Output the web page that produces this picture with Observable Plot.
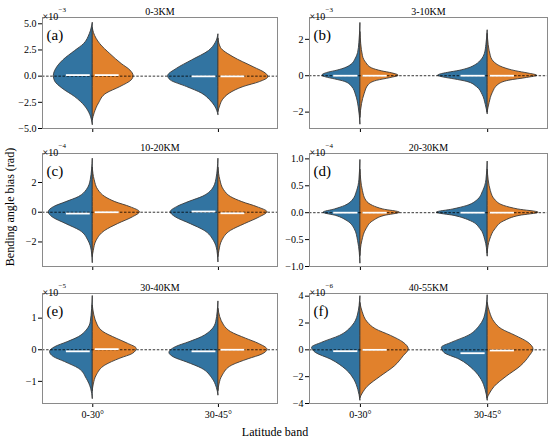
<!DOCTYPE html>
<html>
<head>
<meta charset="utf-8">
<script src="https://cdn.jsdelivr.net/npm/d3@7"></script>
<script src="https://cdn.jsdelivr.net/npm/@observablehq/plot@0.6"></script>
<style>
  html, body { margin: 0; padding: 0; background: #fff; }
  #chart { position: relative; width: 550px; height: 439px; background: #fff; font-family: "Liberation Serif", "Times New Roman", serif; overflow: hidden; }
  #chart > div.panel { position: absolute; }
  .lbl { position: absolute; font-size: 12px; color: #000; white-space: nowrap; }
</style>
</head>
<body>
<div id="chart"></div>
<script>
// ---------------- data ----------------
const bands = ["0-30°", "30-45°"];
const panelTitles = ["0-3KM", "3-10KM", "10-20KM", "20-30KM", "30-40KM", "40-55KM"];
const panelLetters = ["(a)", "(b)", "(c)", "(d)", "(e)", "(f)"];
const exponents = ["−3", "−3", "−4", "−4", "−5", "−6"];
const yDomains = [[-5.0, 5.6], [-2.9, 3.2], [-3.65, 3.95], [-1.0, 1.1], [-1.7, 1.78], [-4.0, 4.2]];
const yTicks = [[-5, -2.5, 0, 2.5, 5], [-2, 0, 2], [-2, 0, 2], [-1, -0.5, 0, 0.5, 1], [-1, 0, 1], [-4, -2, 0, 2, 4]];
const yTickLabels = [
  ["−5.0", "−2.5", "0.0", "2.5", "5.0"],
  ["−2", "0", "2"],
  ["−2", "0", "2"],
  ["−1.0", "−0.5", "0.0", "0.5", "1.0"],
  ["−1", "0", "1"],
  ["−4", "−2", "0", "2", "4"]
];
// mean (white line) per half: [0-30 left, 0-30 right, 30-45 left, 30-45 right]
const meansA = [0.1, 0.1, -0.02, -0.02];
const meansB = [0, 0, 0, 0];
const meansC = [-0.09, 0, 0.05, -0.07];
const meansD = [0, 0, 0, 0];
const meansE = [-0.05, 0.02, -0.05, 0];
const meansF = [-0.1, 0, -0.25, -0.05];

// violin half profiles: [value, half-width]; order [0-30 left, 0-30 right, 30-45 left, 30-45 right]
const profilesA = [
  [[5.1,0],[4.0,0.024],[3.05,0.07],[2.4,0.14],[1.5,0.235],[0.7,0.29],[0,0.31],[-0.5,0.30],[-1.2,0.24],[-2.0,0.14],[-2.9,0.06],[-3.7,0.02],[-4.65,0]],
  [[4.6,0],[4.1,0.01],[3.05,0.06],[2.1,0.14],[1.16,0.23],[0.53,0.30],[0,0.325],[-0.4,0.31],[-1.04,0.22],[-1.67,0.11],[-2.6,0.05],[-3.55,0.015],[-4.2,0]],
  [[4.0,0],[3.2,0.02],[2.4,0.075],[1.5,0.21],[0.7,0.33],[0,0.4],[-0.4,0.38],[-1.04,0.25],[-1.67,0.13],[-2.3,0.066],[-2.9,0.026],[-3.7,0]],
  [[3.6,0],[2.7,0.02],[1.8,0.12],[0.85,0.28],[0.22,0.38],[-0.1,0.397],[-0.57,0.33],[-1.04,0.2],[-1.67,0.09],[-2.3,0.035],[-2.9,0.013],[-3.4,0]]
];
const profilesB = [
  [[2.9,0],[1.81,0.008],[1.25,0.018],[0.88,0.04],[0.6,0.07],[0.41,0.12],[0.28,0.18],[0.17,0.25],[0.07,0.29],[0,0.30],[-0.09,0.27],[-0.2,0.2],[-0.34,0.12],[-0.62,0.065],[-1.08,0.034],[-1.74,0.013],[-2.67,0]],
  [[2.4,0],[1.07,0.02],[0.69,0.047],[0.41,0.09],[0.24,0.17],[0.13,0.25],[0,0.30],[-0.13,0.235],[-0.28,0.13],[-0.52,0.065],[-0.99,0.034],[-1.55,0.013],[-2.3,0]],
  [[2.5,0],[1.7,0.01],[1.2,0.022],[0.85,0.05],[0.6,0.09],[0.4,0.15],[0.27,0.22],[0.16,0.31],[0.07,0.37],[0,0.39],[-0.09,0.35],[-0.2,0.26],[-0.34,0.16],[-0.62,0.085],[-1.05,0.04],[-1.6,0.015],[-2.1,0]],
  [[2.3,0],[1.07,0.025],[0.69,0.06],[0.45,0.12],[0.25,0.22],[0.12,0.32],[0,0.39],[-0.12,0.31],[-0.27,0.17],[-0.5,0.085],[-0.95,0.04],[-1.5,0.015],[-2.0,0]]
];
const profilesC = [
  [[3.6,0],[2.16,0.016],[1.48,0.048],[1.02,0.11],[0.68,0.21],[0.34,0.31],[0,0.35],[-0.34,0.32],[-0.8,0.21],[-1.25,0.1],[-1.93,0.034],[-2.6,0.008],[-3.4,0]],
  [[3.0,0],[2.16,0.015],[1.48,0.045],[1.02,0.1],[0.68,0.18],[0.34,0.3],[0,0.375],[-0.34,0.32],[-0.8,0.2],[-1.25,0.1],[-1.93,0.03],[-2.6,0.008],[-3.0,0]],
  [[3.6,0],[2.2,0.016],[1.5,0.05],[1.05,0.12],[0.7,0.23],[0.34,0.33],[0,0.38],[-0.34,0.34],[-0.8,0.22],[-1.25,0.11],[-1.93,0.036],[-2.6,0.008],[-3.35,0]],
  [[3.0,0],[2.16,0.015],[1.48,0.045],[1.02,0.1],[0.68,0.19],[0.34,0.31],[0,0.39],[-0.34,0.33],[-0.8,0.21],[-1.25,0.1],[-1.93,0.03],[-2.6,0.008],[-3.0,0]]
];
const profilesD = [
  [[0.98,0],[0.6,0.008],[0.4,0.026],[0.22,0.063],[0.125,0.12],[0.06,0.2],[0,0.29],[-0.06,0.19],[-0.16,0.1],[-0.31,0.044],[-0.53,0.018],[-0.75,0.005],[-0.94,0]],
  [[0.8,0],[0.4,0.02],[0.22,0.047],[0.125,0.1],[0.06,0.18],[0,0.31],[-0.06,0.19],[-0.16,0.1],[-0.31,0.047],[-0.53,0.015],[-0.8,0]],
  [[0.95,0],[0.6,0.01],[0.4,0.035],[0.22,0.085],[0.125,0.16],[0.06,0.27],[0,0.4],[-0.06,0.26],[-0.16,0.13],[-0.31,0.055],[-0.5,0.02],[-0.81,0]],
  [[0.8,0],[0.4,0.025],[0.22,0.065],[0.125,0.13],[0.06,0.24],[0,0.4],[-0.06,0.25],[-0.16,0.13],[-0.31,0.06],[-0.5,0.02],[-0.75,0]]
];
const profilesE = [
  [[1.7,0],[0.87,0.016],[0.61,0.048],[0.4,0.11],[0.24,0.2],[0.08,0.3],[-0.07,0.34],[-0.23,0.31],[-0.39,0.22],[-0.6,0.11],[-0.92,0.048],[-1.23,0.013],[-1.55,0]],
  [[1.4,0],[0.77,0.04],[0.56,0.085],[0.35,0.19],[0.19,0.28],[0.03,0.35],[-0.13,0.32],[-0.28,0.22],[-0.5,0.1],[-0.81,0.032],[-1.1,0.008],[-1.3,0]],
  [[1.53,0],[0.87,0.018],[0.61,0.055],[0.4,0.13],[0.24,0.23],[0.08,0.34],[-0.1,0.39],[-0.25,0.35],[-0.4,0.25],[-0.6,0.13],[-0.9,0.05],[-1.2,0.013],[-1.44,0]],
  [[1.3,0],[0.77,0.045],[0.56,0.1],[0.35,0.22],[0.19,0.32],[0.0,0.39],[-0.15,0.35],[-0.3,0.24],[-0.5,0.11],[-0.81,0.035],[-1.1,0.008],[-1.3,0]]
];
const profilesF = [
  [[4.0,0],[2.56,0.02],[1.8,0.06],[1.04,0.16],[0.53,0.3],[0.15,0.38],[-0.23,0.35],[-0.73,0.23],[-1.5,0.11],[-2.25,0.047],[-3.0,0.016],[-3.77,0]],
  [[3.5,0],[2.8,0.018],[2.05,0.057],[1.54,0.12],[1.04,0.24],[0.53,0.34],[0.03,0.38],[-0.48,0.34],[-1.24,0.27],[-2.0,0.16],[-2.76,0.057],[-3.27,0.018],[-3.6,0]],
  [[4.07,0],[2.56,0.02],[1.8,0.06],[1.04,0.15],[0.53,0.28],[0.15,0.36],[-0.23,0.34],[-0.73,0.22],[-1.5,0.11],[-2.25,0.047],[-3.0,0.016],[-3.77,0]],
  [[3.5,0],[2.8,0.018],[2.05,0.055],[1.54,0.11],[1.04,0.22],[0.53,0.32],[0.03,0.36],[-0.48,0.33],[-1.24,0.26],[-2.0,0.15],[-2.76,0.055],[-3.27,0.018],[-3.6,0]]
];

const allProfiles = [profilesA, profilesB, profilesC, profilesD, profilesE, profilesF];
const allMeans = [meansA, meansB, meansC, meansD, meansE, meansF];

// ---------------- style ----------------
const FONT = '"Liberation Serif", "Times New Roman", serif';
const BLUE = "#3274a1";
const ORANGE = "#e1812c";

// column: [left, width, marginLeft, marginRight]; row: [top, height, marginTop, marginBottom]
const cols = [[0, 280, 42, 3], [280, 270, 29, 3]];
const rows = [[0, 136, 17, 8], [136, 136, 17, 6], [272, 167, 21, 36]];

const chart = document.getElementById("chart");

allProfiles.forEach((profs, i) => {
  const col = cols[i % 2], row = rows[Math.floor(i / 2)];
  const isBottom = Math.floor(i / 2) === 2;
  const data = [];
  profs.forEach((prof, k) => {
    const band = Math.floor(k / 2), side = k % 2 ? 1 : -1;
    prof.slice().sort((a, b) => a[0] - b[0]).forEach(([v, w]) => {
      data.push({key: k, side, v, x1: band, x2: band + side * w});
    });
  });
  const meanData = allMeans[i].map((m, k) => {
    const band = Math.floor(k / 2), side = k % 2 ? 1 : -1;
    return {m, a: band + side * 0.02, b: band + side * 0.21};
  });
  const labelMap = new Map(yTicks[i].map((t, j) => [t, yTickLabels[i][j]]));
  const svg = Plot.plot({
    width: col[1], height: row[1],
    marginLeft: col[2], marginRight: col[3], marginTop: row[2], marginBottom: row[3],
    style: {fontFamily: FONT, fontSize: "10px", background: "transparent", overflow: "visible"},
    x: {domain: [-0.4, 1.47], ticks: [0, 1], tickFormat: d => isBottom ? bands[d] : "", tickSize: 4, tickPadding: 3, label: null},
    y: {domain: yDomains[i], ticks: yTicks[i], tickFormat: d => labelMap.get(d), tickSize: 4, tickPadding: 2, label: null},
    color: {type: "ordinal", domain: [-1, 1], range: [BLUE, ORANGE]},
    marks: [
      Plot.areaX(data, {y: "v", x1: "x1", x2: "x2", z: "key", fill: "side", stroke: "#3a3a3a", strokeWidth: 0.9, curve: "monotone-y"}),
      Plot.ruleY([0], {stroke: "#000", strokeWidth: 0.8, strokeDasharray: "2.5,1.6"}),
      Plot.ruleY(meanData, {y: "m", x1: "a", x2: "b", stroke: "white", strokeWidth: 1.8}),
      Plot.frame({stroke: "#8a8a8a", strokeWidth: 1}),
      Plot.text([panelTitles[i]], {frameAnchor: "top", dy: -10, text: d => d, fontSize: 10}),
      Plot.text([panelLetters[i]], {frameAnchor: "top-left", dx: 4, dy: 12, text: d => d, fontSize: 15}),
      Plot.text(["×10"], {frameAnchor: "top-left", dx: 0, dy: -5, text: d => d, fontSize: 10, textAnchor: "start"}),
      Plot.text([exponents[i]], {frameAnchor: "top-left", dx: 16, dy: -10, text: d => d, fontSize: 7, textAnchor: "start"})
    ]
  });
  const div = document.createElement("div");
  div.className = "panel";
  div.style.left = col[0] + "px";
  div.style.top = row[0] + "px";
  div.appendChild(svg);
  chart.appendChild(div);
});

// shared axis labels
const ylab = document.createElement("div");
ylab.className = "lbl";
ylab.textContent = "Bending angle bias (rad)";
ylab.style.left = "10px";
ylab.style.top = "207px";
ylab.style.transform = "translate(-50%, -50%) rotate(-90deg)";
chart.appendChild(ylab);

const xlab = document.createElement("div");
xlab.className = "lbl";
xlab.textContent = "Latitude band";
xlab.style.left = "275px";
xlab.style.top = "432px";
xlab.style.transform = "translate(-50%, -50%)";
chart.appendChild(xlab);
</script>
</body>
</html>
